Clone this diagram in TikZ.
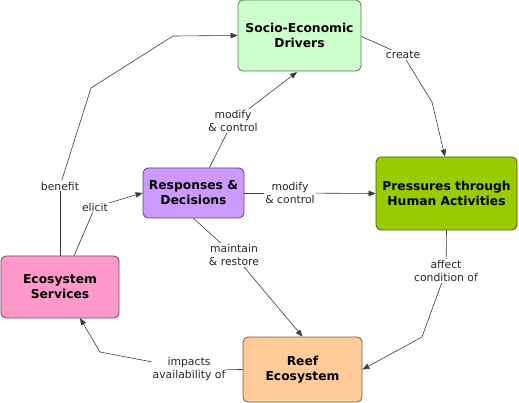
\documentclass[tikz,border=0pt]{standalone}
\usepackage{fontspec}
\setmainfont{DejaVu Sans}
\usetikzlibrary{arrows.meta, positioning}
\definecolor{driversgreen}{RGB}{204, 255, 204}
\definecolor{responsespurple}{RGB}{204, 153, 255}
\definecolor{pressuresgreen}{RGB}{153, 204, 0}
\definecolor{servicespink}{RGB}{255, 153, 204}
\definecolor{reeforange}{RGB}{255, 204, 153}
\definecolor{linkgray}{RGB}{60, 60, 60}

\begin{document}
\begin{tikzpicture}[
    x=1pt, y=-1pt,
    conceptbox/.style={rectangle, rounded corners=5pt, line width=0.8pt, align=center, font=\fontsize{12.3}{15}\selectfont\bfseries},
    linklabel/.style={align=center, inner sep=1pt, font=\fontsize{10.8}{13}\selectfont, text=black!85},
    link/.style={draw=linkgray, line width=0.6pt},
    arr/.style={link, -{Triangle[length=7pt, width=5.5pt]}}
]
\useasboundingbox (0,0) rectangle (519,403);

\node[conceptbox, fill=driversgreen, draw=driversgreen!45!black, minimum width=123pt, minimum height=71pt] (drivers) at (299.5,35.5) {Socio-Economic\\Drivers};
\node[conceptbox, fill=responsespurple, draw=responsespurple!45!black, minimum width=101pt, minimum height=50pt] (responses) at (193.5,193) {Responses \&\\Decisions};
\node[conceptbox, fill=pressuresgreen, draw=pressuresgreen!45!black, minimum width=141pt, minimum height=73pt] (pressures) at (446.5,193.5) {Pressures through\\Human Activities};
\node[conceptbox, fill=servicespink, draw=servicespink!45!black, minimum width=118pt, minimum height=62pt] (services) at (60,287) {Ecosystem\\Services};
\node[conceptbox, fill=reeforange, draw=reeforange!45!black, minimum width=119pt, minimum height=65pt] (reef) at (302.5,369.5) {Reef\\Ecosystem};

% linking phrases
\node[linklabel] (benefit) at (60,186) {benefit};
\node[linklabel] (elicit) at (95,207) {elicit};
\node[linklabel] (modifyup) at (233,121) {modify\\\& control};
\node[linklabel] (modifyright) at (290,193) {modify\\\& control};
\node[linklabel] (create) at (403,55) {create};
\node[linklabel] (affect) at (446,271) {affect\\condition of};
\node[linklabel] (maintain) at (234,255) {maintain\\\& restore};
\node[linklabel] (impacts) at (189,369) {impacts\\availability of};

\draw[link] (services.north -| benefit) -- (benefit);
\draw[arr] (benefit) -- (91,88) -- (173,36) -- (drivers.west);

\draw[link] (74,256) -- (elicit);
\draw[arr] (elicit) -- (responses.west);

\draw[link] (responses.north) ++(16,0) -- (modifyup);
\draw[arr] (modifyup) -- (297,72);

\draw[link] (responses.east) -- (modifyright);
\draw[arr] (modifyright) -- (pressures.west);

\draw[link] (drivers.east) ++(0,1) -- (create);
\draw[arr] (create) -- (432,102) -- (pressures.north -| 445,0);

\draw[link] (pressures.south) -- (affect);
\draw[arr] (affect) -- (422,337) -- (reef.east);

\draw[link] (responses.south) -- (maintain);
\draw[arr] (maintain) -- (reef.north);

\draw[link] (reef.west) -- (impacts);
\draw[arr] (impacts) -- (100,352) -- (80,318);
\end{tikzpicture}
\end{document}
